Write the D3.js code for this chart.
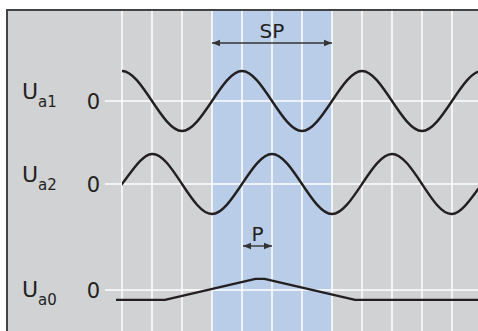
<!DOCTYPE html>
<html>
<head>
<meta charset="utf-8">
<script src="https://cdn.jsdelivr.net/npm/d3@7"></script>
<style>
  body { margin: 0; background: #fff; }
  text { font-family: "DejaVu Sans", sans-serif; fill: #231f20; }
</style>
</head>
<body>
<div id="graph"></div>
<script>
var width = 478, height = 331

// time axis in grid divisions
var gridTicks = [0, 1, 2, 3, 4, 5, 6, 7, 8, 9, 10, 11]
var band = [3, 7]          // SP window
var pulse = [4, 5]         // P arrow

// key points of the signals (x in divisions, y in amplitude); drawn from x = 0 on
var ua1X = [-1, 0, 1, 2, 3, 4, 5, 6, 7, 8, 9, 10, 11, 12, 13]
var ua1Y = [0, 1, 0, -1, 0, 1, 0, -1, 0, 1, 0, -1, 0, 1, 0]
var ua2X = [-1, 0, 1, 2, 3, 4, 5, 6, 7, 8, 9, 10, 11, 12, 13]
var ua2Y = [-1, 0, 1, 0, -1, 0, 1, 0, -1, 0, 1, 0, -1, 0, 1]
var ua0X = [-0.2, 1.43, 4.45, 4.75, 7.77, 12]
var ua0Y = [-0.33, -0.33, 0.37, 0.37, -0.33, -0.33]

var rows = [
  {name: 'a1', x: ua1X, y: ua1Y, smooth: true},
  {name: 'a2', x: ua2X, y: ua2Y, smooth: true},
  {name: 'a0', x: ua0X, y: ua0Y, smooth: false}
]
var rowZero = {a1: 101, a2: 184, a0: 290}
var labelLift = {a1: 9, a2: 9, a0: 0}

var frameLeft = 7, frameTop = 10

var x = d3.scaleLinear().domain([0, 11]).range([122, 452])
var amp = d3.scaleLinear().domain([-1, 1]).range([30, -30])

var svg = d3.select('#graph').append('svg')
    .attr('width', width).attr('height', height)

var defs = svg.append('defs')
defs.append('clipPath').attr('id', 'waveclip')
  .append('rect')
    .attr('x', x(0)).attr('y', -height)
    .attr('width', width - x(0)).attr('height', height * 2)

svg.append('rect')
    .attr('x', frameLeft).attr('y', frameTop)
    .attr('width', width - frameLeft).attr('height', height - frameTop)
    .attr('fill', '#d1d2d4')

svg.append('rect')
    .attr('x', x(band[0])).attr('y', frameTop)
    .attr('width', x(band[1]) - x(band[0])).attr('height', height - frameTop)
    .attr('fill', '#b9cde8')

svg.append('g').selectAll('line')
  .data(gridTicks).join('line')
    .attr('x1', d => x(d)).attr('x2', d => x(d))
    .attr('y1', frameTop).attr('y2', height)
    .attr('stroke', '#fff').attr('stroke-width', 1.5)

svg.append('g').selectAll('line')
  .data(rows).join('line')
    .attr('x1', x(-0.57)).attr('x2', width)
    .attr('y1', d => rowZero[d.name]).attr('y2', d => rowZero[d.name])
    .attr('stroke', '#fff').attr('stroke-width', 1.5)

svg.append('path')
    .attr('d', `M${frameLeft},${height}V${frameTop}H${width}`)
    .attr('fill', 'none').attr('stroke', '#444').attr('stroke-width', 2)

rows.forEach(function(r){
  var g = svg.append('g').attr('transform', `translate(0,${rowZero[r.name]})`)
  var line = d3.line()
      .x((d, i) => x(r.x[i]))
      .y(d => amp(d))
      .curve(r.smooth ? d3.curveNatural : d3.curveLinear)
  g.append('path')
      .attr('d', line(r.y))
      .attr('clip-path', r.smooth ? 'url(#waveclip)' : null)
      .attr('fill', 'none').attr('stroke', '#231f20')
      .attr('stroke-width', 2.4).attr('stroke-linejoin', 'round')

  var t = g.append('text')
      .attr('x', 22).attr('y', 7 - labelLift[r.name])
      .style('font-size', '22px')
  t.append('tspan').text('U')
  t.append('tspan').attr('dy', 8).style('font-size', '15px').text(r.name)

  g.append('text')
      .attr('x', 100).attr('y', 8)
      .attr('text-anchor', 'end')
      .style('font-size', '21px')
      .text('0')
})

// arrows
defs.append('marker')
    .attr('id', 'head').attr('viewBox', '0 0 10 10')
    .attr('refX', 10).attr('refY', 5)
    .attr('markerWidth', 8).attr('markerHeight', 8)
    .attr('markerUnits', 'userSpaceOnUse')
    .attr('orient', 'auto-start-reverse')
  .append('path').attr('d', 'M0,1L10,5L0,9Z').attr('fill', '#333')

function arrow(x0, x1, y, label){
  svg.append('line')
      .attr('x1', x0).attr('x2', x1).attr('y1', y).attr('y2', y)
      .attr('stroke', '#333').attr('stroke-width', 1.4)
      .attr('marker-start', 'url(#head)').attr('marker-end', 'url(#head)')
  svg.append('text')
      .attr('x', (x0 + x1) / 2).attr('y', y - 5)
      .attr('text-anchor', 'middle')
      .style('font-size', '20px')
      .text(label)
}
arrow(x(band[0]), x(band[1]), 43, 'SP')
arrow(x(pulse[0]) + 1, x(pulse[1]), 246, 'P')
</script>
</body>
</html>
